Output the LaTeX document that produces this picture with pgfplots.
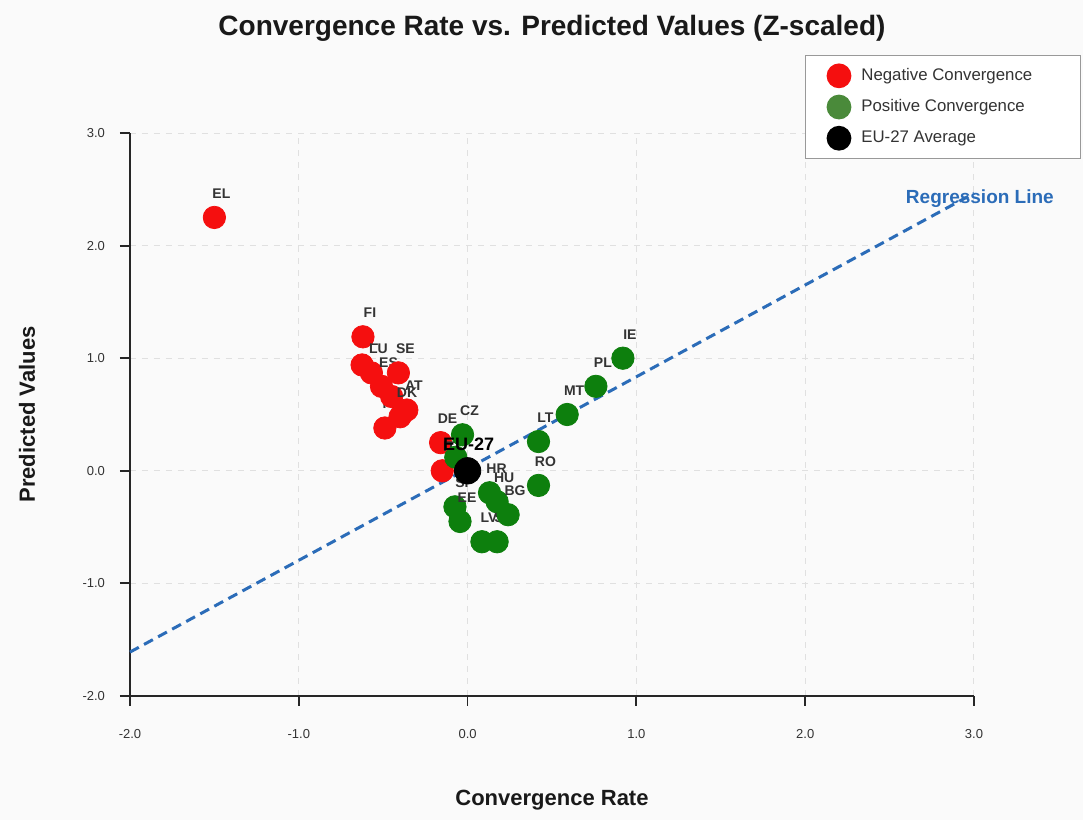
\documentclass[border=0pt]{standalone}
\usepackage{fontspec}
\setmainfont{Liberation Sans}
\usepackage{pgfplots}
\pgfplotsset{compat=1.18}
\definecolor{negred}{HTML}{F50F0F}
\definecolor{posgreen}{HTML}{0D7F0D}
\definecolor{leggreen}{HTML}{4A8A3A}
\definecolor{regblue}{HTML}{2B6CB8}
\definecolor{bg}{HTML}{FAFAFA}
\definecolor{lbl}{HTML}{333333}
\pgfplotsset{
  ptlabel/.style={every node near coord/.append style={anchor=center, xshift=3.5pt, yshift=12pt,
      font=\bfseries\fontsize{7}{8}\selectfont, text=lbl, inner sep=0pt}},
  neg/.style={forget plot, only marks, mark=*, mark size=5.6pt, color=negred,
      nodes near coords={#1}, ptlabel},
  pos/.style={forget plot, only marks, mark=*, mark size=5.6pt, color=posgreen,
      nodes near coords={#1}, ptlabel},
}
\begin{document}
\begin{tikzpicture}
\path[fill=bg] (0,0) rectangle (541.5pt,410pt);
\useasboundingbox (0,0) rectangle (541.5pt,410pt);
\begin{axis}[
  at={(65pt,62pt)}, anchor=south west,
  scale only axis, width=422pt, height=281.5pt,
  xmin=-2, xmax=3, ymin=-2, ymax=3,
  axis lines=left, axis line style={-, line width=1pt, black!85},
  xtick={-2,-1,0,1,2,3}, ytick={-2,-1,0,1,2,3},
  tick align=outside, major tick length=5pt, tick style={line width=0.9pt, black!85},
  /pgf/number format/.cd, fixed, fixed zerofill, precision=1, assume math mode=true, /pgfplots/.cd,
  ticklabel style={font=\fontsize{6.5}{8}\selectfont, text=lbl},
  xticklabel style={yshift=-8pt},
  yticklabel style={xshift=-4pt},
  grid=major, grid style={dashed, black!12, line width=0.5pt},
  clip=false,
  title={Convergence Rate vs. Predicted Values (Z-scaled)},
  title style={at={(axis description cs:0.5,1.1865)}, anchor=center, yshift=0pt, font=\bfseries\fontsize{14}{16}\selectfont, text=black!90},
  every axis title shift=0pt,
  xlabel={Convergence Rate},
  xlabel style={at={(axis description cs:0.5,-0.185)}, anchor=center, font=\bfseries\fontsize{11}{13}\selectfont, text=black!90},
  ylabel={Predicted Values},
  ylabel style={at={(axis description cs:-0.122,0.5)}, anchor=center, rotate=0, font=\bfseries\fontsize{11}{13}\selectfont, text=black!90},
  legend style={at={(axis description cs:0.80,1.1385)}, anchor=north west, draw=black!40, fill=white,
     font=\fontsize{8.4}{10}\selectfont, text=lbl, row sep=3.2pt, inner xsep=10.5pt, inner ysep=4pt},
  legend cell align=left,
]
% regression line
\addplot[forget plot, regblue, dashed, line width=1.5pt, dash pattern=on 5pt off 3pt] coordinates {(-2,-1.61) (3,2.465)};
\node[font=\bfseries\fontsize{9.5}{11}\selectfont, text=regblue] at (axis cs:3.035,2.42) {Regression Line};

% points, in the order they are drawn
\addplot[neg=EL] coordinates {(-1.50,2.25)};
\addplot[neg=NL] coordinates {(-0.625,0.94)};
\addplot[neg=FI] coordinates {(-0.62,1.19)};
\addplot[neg=LU] coordinates {(-0.57,0.87)};
\addplot[neg=ES] coordinates {(-0.51,0.75)};
\addplot[neg=FR] coordinates {(-0.49,0.38)};
\addplot[neg=BE] coordinates {(-0.45,0.66)};
\addplot[neg=SE] coordinates {(-0.41,0.87)};
\addplot[neg=DK] coordinates {(-0.40,0.48)};
\addplot[neg=AT] coordinates {(-0.36,0.54)};
\addplot[neg=DE] coordinates {(-0.16,0.25)};
\addplot[neg=IT] coordinates {(-0.15,0.00)};
\addplot[pos=SI] coordinates {(-0.075,-0.32)};
\addplot[pos=CY] coordinates {(-0.07,0.12)};
\addplot[pos=EE] coordinates {(-0.045,-0.45)};
\addplot[pos=CZ] coordinates {(-0.03,0.32)};
\addplot[forget plot, only marks, mark=*, mark size=6.6pt, color=black,
   nodes near coords={EU-27}, every node near coord/.append style={anchor=center, xshift=0.5pt, yshift=13pt,
   font=\bfseries\fontsize{9}{10}\selectfont, text=black, inner sep=0pt}] coordinates {(0,0)};
\addplot[pos=LV] coordinates {(0.085,-0.63)};
\addplot[pos=HR] coordinates {(0.13,-0.195)};
\addplot[pos=HU] coordinates {(0.175,-0.275)};
\addplot[pos=SK] coordinates {(0.175,-0.63)};
\addplot[pos=BG] coordinates {(0.24,-0.39)};
\addplot[pos=LT] coordinates {(0.42,0.26)};
\addplot[pos=RO] coordinates {(0.42,-0.13)};
\addplot[pos=MT] coordinates {(0.59,0.50)};
\addplot[pos=PL] coordinates {(0.76,0.75)};
\addplot[pos=IE] coordinates {(0.92,1.00)};

\addlegendimage{legend image code/.code={\path[draw=none,fill=none] (-6.2pt,-6.2pt) rectangle (9.2pt,6.2pt); \fill[negred,draw=none] (0pt,0pt) circle (6.2pt);}}
\addlegendentry{\makebox[97pt][l]{Negative Convergence}}
\addlegendimage{legend image code/.code={\path[draw=none,fill=none] (-6.2pt,-6.2pt) rectangle (9.2pt,6.2pt); \fill[leggreen,draw=none] (0pt,0pt) circle (6.2pt);}}
\addlegendentry{Positive Convergence}
\addlegendimage{legend image code/.code={\path[draw=none,fill=none] (-6.2pt,-6.2pt) rectangle (9.2pt,6.2pt); \fill[black,draw=none] (0pt,0pt) circle (6.2pt);}}
\addlegendentry{EU-27 Average}
\end{axis}
\end{tikzpicture}
\end{document}
